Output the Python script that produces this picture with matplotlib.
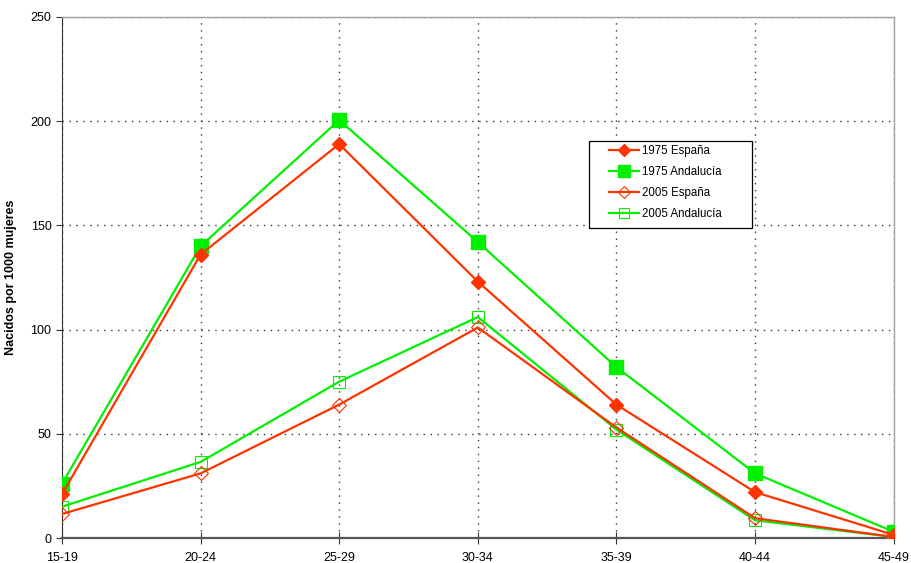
import matplotlib
matplotlib.use("Agg")
import matplotlib.pyplot as plt
from matplotlib.patches import Rectangle

plt.rcParams['font.family'] = ['Liberation Sans', 'DejaVu Sans']

grupos = ["15-19", "20-24", "25-29", "30-34", "35-39", "40-44", "45-49"]
espana_1975 = [21, 136, 189, 123, 64, 22, 1.5]
andalucia_1975 = [26, 140, 200.5, 142, 82, 31, 3]
espana_2005 = [11.5, 31, 64, 101, 53, 9.5, 0.5]
andalucia_2005 = [15, 36.5, 75, 106, 52, 8.5, 0.5]

ROJO = "#FF3300"
VERDE = "#00F000"

W, H = 911, 563
fig = plt.figure(figsize=(W / 100, H / 100), dpi=100)
ax = fig.add_axes([0.068, 0.0444, 0.913, 0.9256])

x = list(range(len(grupos)))
ax.plot(x, espana_1975, color=ROJO, lw=1.6, marker="D", ms=7, mfc=ROJO, mec=ROJO,
        label="1975 España", zorder=4)
ax.plot(x, andalucia_1975, color=VERDE, lw=1.6, marker="s", ms=9.5, mfc=VERDE, mec=VERDE,
        label="1975 Andalucía", zorder=3)
ax.plot(x, espana_2005, color=ROJO, lw=1.6, marker="D", ms=7, mfc="none", mec=ROJO,
        mew=0.8, label="2005 España", zorder=4)
ax.plot(x, andalucia_2005, color=VERDE, lw=1.6, marker="s", ms=9, mfc="none", mec=VERDE,
        mew=0.8, label="2005 Andalucía", zorder=3)

ax.set_xlim(0, len(grupos) - 1)
ax.set_ylim(0, 250)
ax.set_xticks(x)
ax.set_xticklabels(grupos, fontsize=9)
ax.set_yticks(range(0, 251, 50))
ax.tick_params(axis="y", labelsize=9, direction="out", length=4, color="#333333")
ax.tick_params(axis="x", direction="inout", length=8, color="#333333", pad=6)

ax.grid(True, linestyle=(0, (1, 4)), color="#333333", linewidth=1.0)
for side in ("top", "right"):
    ax.spines[side].set_color("#A0A0A0")
    ax.spines[side].set_linewidth(1.0)
ax.spines["left"].set_color("#333333")
ax.spines["bottom"].set_color("#555555")
ax.spines["bottom"].set_linewidth(1.6)

ax.set_ylabel("Nacidos por 1000 mujeres", fontsize=9, fontweight="bold", labelpad=10)

# legend box drawn separately, entries placed inside it
caja = Rectangle((589 / W, 1 - 228 / H), 163 / W, 87 / H,
                 transform=fig.transFigure, facecolor="white",
                 edgecolor="black", linewidth=0.9, zorder=5, clip_on=False)
ax.add_patch(caja)
leg = ax.legend(loc="upper left", bbox_to_anchor=(609 / W, 1 - 145 / H),
                bbox_transform=fig.transFigure, borderaxespad=0, borderpad=0,
                fontsize=8.3, frameon=False, labelspacing=0.78, handlelength=2.6,
                handletextpad=0.3, markerscale=0.85)
leg.set_zorder(6)

fig.savefig("out.png", dpi=100)
